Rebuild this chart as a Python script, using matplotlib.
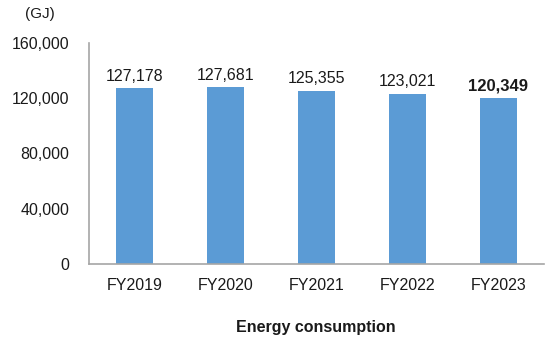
import matplotlib.pyplot as plt

plt.rcParams['font.family'] = ['Liberation Sans', 'DejaVu Sans']

years = ['FY2019', 'FY2020', 'FY2021', 'FY2022', 'FY2023']
energy = [127178, 127681, 125355, 123021, 120349]
yticks = [0, 40000, 80000, 120000, 160000]

fig = plt.figure(figsize=(5.46, 3.45), dpi=100)
ax = fig.add_axes([0.163, 0.235, 0.833, 0.641])

x = range(len(years))
ax.bar(x, energy, width=0.4, color='#5B9BD5')

for i, v in enumerate(energy):
    bold = i == len(energy) - 1
    ax.text(i, v + 3300, f'{v:,}', ha='center', va='bottom',
            fontsize=12 if bold else 11.5,
            fontweight='bold' if bold else 'normal', color='#1a1a1a')

ax.set_xlim(-0.5, len(years) - 0.5)
ax.set_ylim(0, 160000)
ax.set_xticks(list(x))
ax.set_xticklabels(years)
ax.set_yticks(yticks)
ax.set_yticklabels([f'{t:,}' for t in yticks])
ax.tick_params(axis='both', length=0, labelsize=11.5, colors='#1a1a1a')
ax.tick_params(axis='x', pad=10)
ax.tick_params(axis='y', pad=14)

for side in ['top', 'right']:
    ax.spines[side].set_visible(False)
for side in ['left', 'bottom']:
    ax.spines[side].set_color('#a6a6a6')
    ax.spines[side].set_linewidth(1.2)

fig.text(0.073, 0.96, '(GJ)', fontsize=11, ha='center', va='center', color='#1a1a1a')
fig.text(0.578, 0.05, 'Energy consumption', fontsize=11.5, fontweight='bold',
         ha='center', va='center', color='#1a1a1a')

fig.savefig('out.png', dpi=100)
